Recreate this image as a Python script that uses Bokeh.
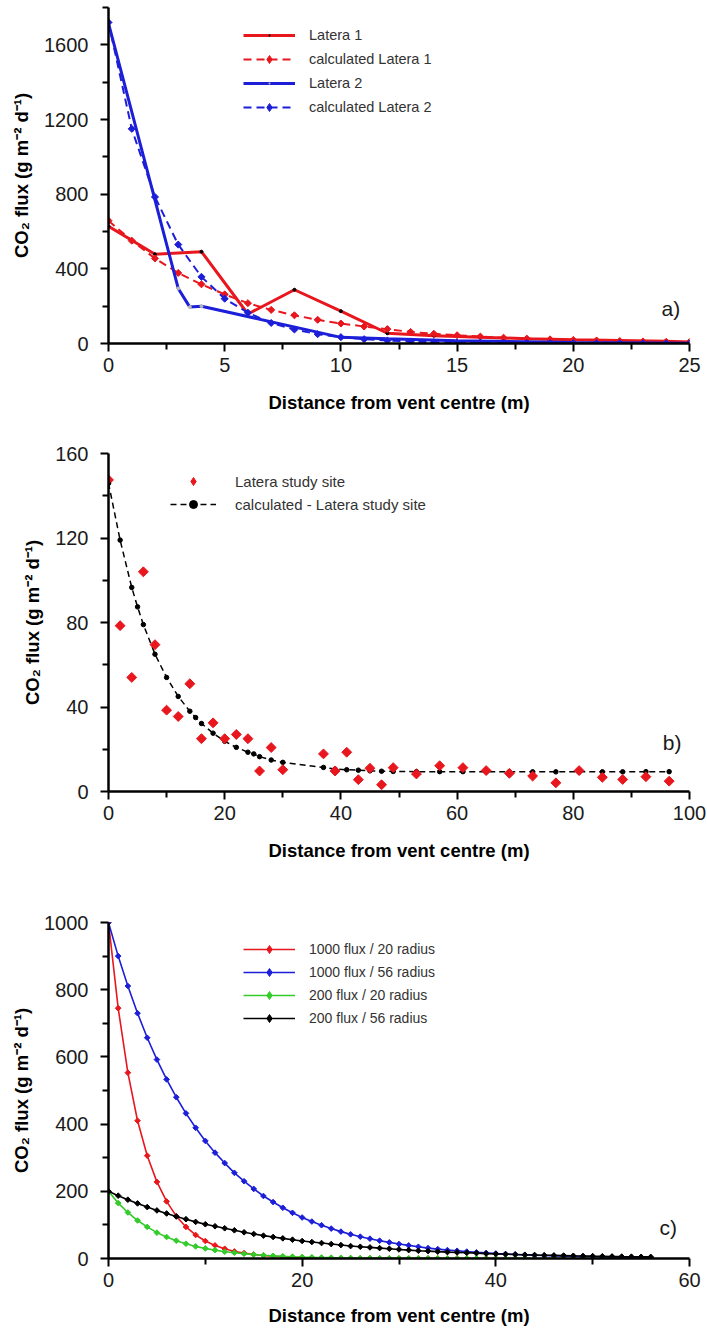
from bokeh.plotting import figure
from bokeh.layouts import column
from bokeh.models import Range1d, FixedTicker, Legend, LegendItem, Label
from bokeh.embed import file_html
from bokeh.resources import INLINE

FONT = "Liberation Sans"
RED = "#e8161d"
BLUE = "#1d1fd8"
GREEN = "#33cc2a"
BLACK = "#000000"
GREY = "#b8b8b8"

# ---------------- data: panel a ----------------
a_x_latera1 = [0, 2, 4, 6, 8, 10, 12, 14, 16, 18, 20, 22, 24, 25]
a_y_latera1 = [628, 478, 492, 158, 288, 173, 55, 42, 33, 26, 20, 16, 12, 8]
a_x_calc = [0, 1, 2, 3, 4, 5, 6, 7, 8, 9, 10, 11, 12, 13, 14, 15, 16, 17, 18, 19, 20, 21, 22, 23, 24, 25]
a_y_calc1 = [658, 551, 456, 378, 317, 263, 216, 180, 151, 127, 107, 91, 77, 62, 52, 44, 37, 31, 26, 22, 19, 16, 13, 11, 9, 8]
a_x_latera2 = [0, 3, 3.5, 4, 10, 12, 15, 20, 25]
a_y_latera2 = [1715, 295, 195, 200, 33, 25, 15, 6, 1]
a_y_calc2 = [1720, 1150, 785, 530, 357, 240, 165, 110, 75, 50, 34, 23, 16, 11, 7, 5, 3.5, 2.4, 1.6, 1.1, 0.8, 0.5, 0.4, 0.3, 0.2, 0.1]
a_xticks = [0, 5, 10, 15, 20, 25]
a_xminor = [2.5, 7.5, 12.5, 17.5, 22.5]
a_yticks = [0, 400, 800, 1200, 1600]
a_yminor = [200, 600, 1000, 1400, 1800]

# ---------------- data: panel b ----------------
b_x_obs = [0, 2, 4, 6, 8, 10, 12, 14, 16, 18, 20, 22, 24, 26, 28, 30, 37, 39, 41, 43,
           45, 47, 49, 53, 57, 61, 65, 69, 73, 77, 81, 85, 88.5, 92.5, 96.5]
b_y_obs = [147.5, 78.5, 54, 104, 69.5, 38.5, 35.5, 51, 25, 32.5, 25, 27, 25, 9.7, 20.8, 10.3, 17.8, 9.7, 18.6, 5.6,
           11, 3.2, 11.3, 8.3, 12.2, 11.3, 9.9, 8.6, 7.3, 4.1, 9.9, 6.7, 5.7, 7, 4.9]
b_x_calc = [0, 2, 4, 5, 6, 8, 10, 12, 14, 15, 16, 18, 20, 22, 24, 25, 26, 28, 30, 37, 39, 41, 43,
            45, 47, 49, 53, 57, 61, 65, 69, 73, 77, 81, 85, 88.5, 92.5, 96.5]
b_y_calc = [146, 119, 96.6, 87.4, 79, 65, 54, 45, 38, 35, 32.2, 27.6, 23.8, 20.9, 18.6, 17.8, 16.5, 14.9, 13.8, 11.4, 10.6, 10.3, 10.1,
            9.8, 9.6, 9.5, 9.4, 9.4, 9.4, 9.4, 9.3, 9.3, 9.3, 9.3, 9.3, 9.3, 9.4, 9.4]
b_xticks = [0, 20, 40, 60, 80, 100]
b_xminor = [10, 30, 50, 70, 90]
b_yticks = [0, 40, 80, 120, 160]
b_yminor = [20, 60, 100, 140]

# ---------------- data: panel c ----------------
c_x = [0, 1, 2, 3, 4, 5, 6, 7, 8, 9, 10, 11, 12, 13, 14, 15, 16, 17, 18, 19, 20, 21, 22, 23, 24, 25, 26, 27, 28,
       29, 30, 31, 32, 33, 34, 35, 36, 37, 38, 39, 40, 41, 42, 43, 44, 45, 46, 47, 48, 49, 50, 51, 52, 53, 54, 55, 56]
c_red = [1000, 745, 553, 410, 306, 228, 170, 126, 94, 70,
         52, 39, 29, 21, 16, 12, 8.8, 6.5, 4.9, 3.6,
         2.7, 2.0, 1.5, 1.1, 0.8, 0.6, 0.5, 0.3, 0.3, 0.2,
         0.1, 0.1, 0.1, 0.1, 0.1, 0.1, 0, 0, 0, 0,
         0, 0, 0, 0, 0, 0, 0, 0, 0, 0,
         0, 0, 0, 0, 0, 0, 0]
c_blue = [1000, 900, 811, 730, 657, 592, 533, 480, 432, 389,
          350, 315, 284, 255, 230, 207, 186, 168, 151, 136,
          122, 110, 99, 89, 80, 72, 65, 59, 53, 48,
          43, 39, 35, 31, 28, 25, 23, 20.5, 18.5, 16.6,
          15, 13.5, 12.1, 10.9, 9.8, 8.9, 8, 7.2, 6.5, 5.8,
          5.2, 4.7, 4.2, 3.8, 3.4, 3.1, 2.8]
c_green = [200, 165, 137, 113, 94, 77, 64, 53, 44, 36,
           30, 25, 20, 17, 14, 11.6, 9.6, 7.9, 6.5, 5.4,
           4.5, 3.7, 3.1, 2.5, 2.1, 1.7, 1.4, 1.2, 1.0, 0.8,
           0.7, 0.6, 0.5, 0.4, 0.3, 0.3, 0.2, 0.2, 0.2, 0.1,
           0.1, 0.1, 0.1, 0.1, 0.1, 0.1, 0.1, 0.1, 0.1, 0.1,
           0.1, 0, 0, 0, 0, 0, 0]
c_black = [200, 187, 175, 164, 153, 143, 134, 125, 117, 109,
           102, 96, 90, 84, 78, 73, 68, 64, 60, 56,
           52, 49, 46, 43, 40, 37, 35, 33, 31, 29,
           27, 25, 23, 22, 20.5, 19, 18, 17, 16, 14.6,
           13.7, 12.8, 12, 11.2, 10.5, 9.8, 9.2, 8.6, 8, 7.5,
           7, 6.6, 6.1, 5.7, 5.4, 5, 4.7]
c_xticks = [0, 20, 40, 60]
c_xminor = [10, 30, 50]
c_yticks = [0, 200, 400, 600, 800, 1000]
c_yminor = [100, 300, 500, 700, 900]

XLABEL = "Distance from vent centre (m)"
YLABEL = "CO\u2082 flux (g m\u207b\u00b2 d\u207b\u00b9)"


def make_fig(height, xr, yr, top, bottom, left, right, xt, xm, yt, ym, xstand):
    p = figure(width=707, height=height, x_range=Range1d(*xr), y_range=Range1d(*yr),
               output_backend="svg", toolbar_location=None,
               min_border_top=top, min_border_bottom=bottom,
               min_border_left=left, min_border_right=right)
    p.xgrid.visible = False
    p.ygrid.visible = False
    p.outline_line_color = None
    for ax in (p.xaxis[0], p.yaxis[0]):
        ax.axis_line_width = 2.5
        ax.axis_line_color = "black"
        ax.major_tick_line_width = 2
        ax.minor_tick_line_width = 2
        ax.major_tick_line_color = "black"
        ax.minor_tick_line_color = "black"
        ax.major_tick_out = 8
        ax.major_tick_in = 0
        ax.minor_tick_out = 6
        ax.minor_tick_in = 0
        ax.major_label_text_font = FONT
        ax.major_label_text_font_size = "20px"
        ax.major_label_text_color = "#1a1a1a"
        ax.axis_label_text_font = FONT
        ax.axis_label_text_font_size = "18.5px"
        ax.axis_label_text_font_style = "bold"
        ax.axis_label_text_color = "black"
    p.xaxis[0].ticker = FixedTicker(ticks=xt, minor_ticks=xm)
    p.yaxis[0].ticker = FixedTicker(ticks=yt, minor_ticks=ym)
    p.xaxis[0].axis_label = XLABEL
    p.yaxis[0].axis_label = YLABEL
    p.xaxis[0].major_label_standoff = 6
    p.xaxis[0].axis_label_standoff = xstand
    p.yaxis[0].major_label_standoff = 12
    p.yaxis[0].axis_label_standoff = 9
    return p


def add_legend(p, items, loc, gw, standoff, fsize, spacing):
    leg = Legend(items=items, location=loc, orientation="vertical",
                 glyph_width=gw, glyph_height=20, label_height=20,
                 label_standoff=standoff, spacing=spacing, padding=0, margin=0,
                 border_line_color=None, background_fill_alpha=0,
                 label_text_font=FONT, label_text_font_size=fsize,
                 label_text_color="#333333")
    p.add_layout(leg)


# ---------------- panel a ----------------
pa = make_fig(415, (0, 25), (0, 1800), 7, 72, 108, 14,
              a_xticks, a_xminor, a_yticks, a_yminor, 17)
l1 = pa.line(a_x_latera1, a_y_latera1, line_color=RED, line_width=3)
pa.scatter(a_x_latera1, a_y_latera1, marker="circle", size=3, color=BLACK)
c1l = pa.line(a_x_calc, a_y_calc1, line_color=RED, line_width=2, line_dash="8 5")
pa.scatter(a_x_calc, a_y_calc1, marker="square", angle=0.785398, size=5, color=RED)
l2 = pa.line(a_x_latera2, a_y_latera2, line_color=BLUE, line_width=3)
pa.scatter(a_x_latera2, a_y_latera2, marker="circle", size=3, color=GREY)
c2l = pa.line(a_x_calc, a_y_calc2, line_color=BLUE, line_width=2, line_dash="8 5")
pa.scatter(a_x_calc, a_y_calc2, marker="square", angle=0.785398, size=5, color=BLUE)
# marker samples for the legend (drawn on each series' first point)
k1 = pa.scatter(a_x_latera1[:1], a_y_latera1[:1], marker="dot", size=8, line_color=BLACK, fill_color=BLACK)
k1c = pa.scatter(a_x_calc[:1], a_y_calc1[:1], marker="diamond", size=7, color=RED)
k2 = pa.scatter(a_x_latera2[:1], a_y_latera2[:1], marker="dot", size=8, line_color=GREY, fill_color=GREY)
k2c = pa.scatter(a_x_calc[:1], a_y_calc2[:1], marker="diamond", size=7, color=BLUE)
add_legend(pa, [LegendItem(label="Latera 1", renderers=[l1, k1]),
                LegendItem(label="calculated Latera 1", renderers=[c1l, k1c]),
                LegendItem(label="Latera 2", renderers=[l2, k2]),
                LegendItem(label="calculated Latera 2", renderers=[c2l, k2c])],
           (135, 226), 52, 14, "14.5px", 4)
pa.add_layout(Label(x=24.2, y=187, text="a)", text_font=FONT, text_font_size="21px",
                    text_align="center", text_baseline="middle", text_color="#1a1a1a"))

# ---------------- panel b ----------------
pb = make_fig(448, (0, 100), (0, 160), 38, 72, 105, 18,
              b_xticks, b_xminor, b_yticks, b_yminor, 17)
bl = pb.line(b_x_calc, b_y_calc, line_color=BLACK, line_width=1.5, line_dash="6 4")
pb.scatter(b_x_calc, b_y_calc, marker="circle", size=4.5, color=BLACK)
pb.scatter(b_x_obs, b_y_obs, marker="square", angle=0.785398, size=7, color=RED)
kb2 = pb.scatter(b_x_calc[:1], b_y_calc[:1], marker="circle", size=4.5, color=BLACK)
kb1 = pb.scatter(b_x_obs[:1], b_y_obs[:1], marker="diamond", size=9, color=RED)
add_legend(pb, [LegendItem(label="Latera study site", renderers=[kb1]),
                LegendItem(label="calculated - Latera study site", renderers=[bl, kb2])],
           (62, 277), 46, 19, "15px", 3)
pb.add_layout(Label(x=97, y=23.3, text="b)", text_font=FONT, text_font_size="21px",
                    text_align="center", text_baseline="middle", text_color="#1a1a1a"))

# ---------------- panel c ----------------
pc = make_fig(465, (0, 60), (0, 1000), 59, 70, 108, 14,
              c_xticks, c_xminor, c_yticks, c_yminor, 15)
items = []
for lab, ys, col in [("1000 flux / 20 radius", c_red, RED),
                     ("1000 flux / 56 radius", c_blue, BLUE),
                     ("200 flux / 20 radius", c_green, GREEN),
                     ("200 flux / 56 radius", c_black, BLACK)]:
    ln = pc.line(c_x, ys, line_color=col, line_width=1.6)
    pc.scatter(c_x, ys, marker="square", angle=0.785398, size=4, color=col)
    kk = pc.scatter(c_x[:1], ys[:1], marker="diamond", size=5, color=col)
    items.append(LegendItem(label=lab, renderers=[ln, kk]))
add_legend(pc, items, (135, 230), 52, 14, "14px", 3)
pc.add_layout(Label(x=57.8, y=92, text="c)", text_font=FONT, text_font_size="21px",
                    text_align="center", text_baseline="middle", text_color="#1a1a1a"))

layout = column(pa, pb, pc, spacing=0)
open("out.html", "w").write(file_html(layout, INLINE))
